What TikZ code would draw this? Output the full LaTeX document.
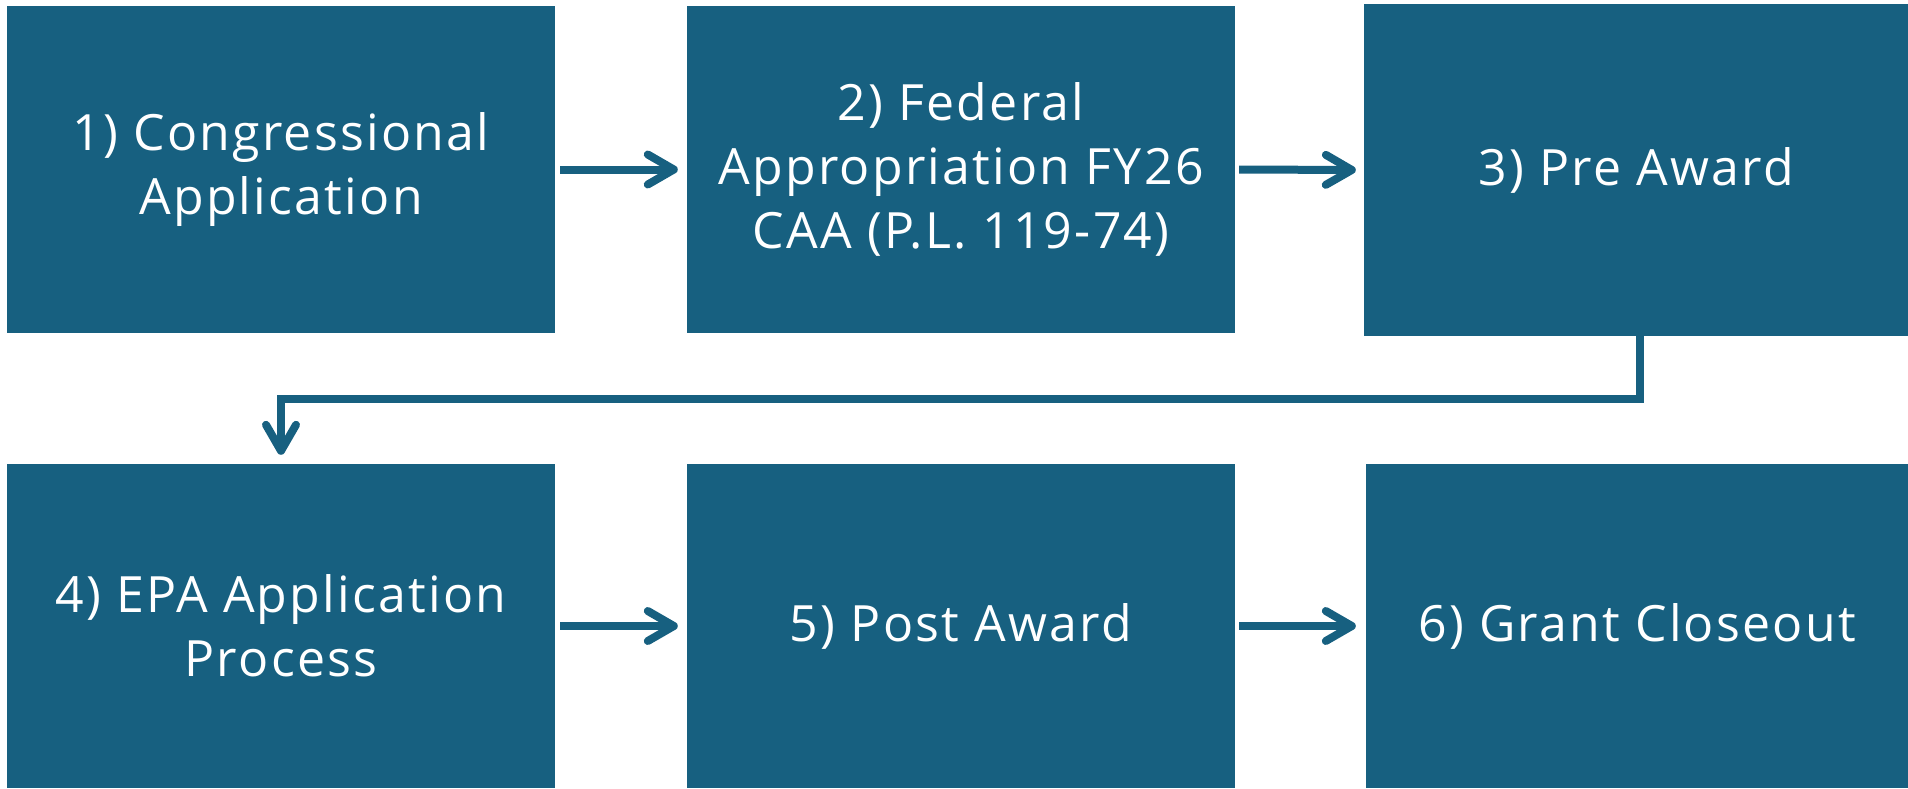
\documentclass[tikz,border=0pt]{standalone}
\usepackage{fontspec}
\setmainfont[LetterSpace=4.5]{Open Sans}
\usetikzlibrary{arrows.meta}
\definecolor{boxblue}{RGB}{23,96,128}
\tikzset{
  stage/.style={fill=boxblue, draw=none, text=white, align=center, inner sep=0pt,
    font=\fontsize{50}{64}\selectfont},
  flow/.style={draw=boxblue, line width=8pt,
    -{Straight Barb[length=26pt,width=30pt,line cap=round,line join=round]}}
}
\begin{document}
\begin{tikzpicture}[x=1pt,y=-1pt]
\useasboundingbox (0,0) rectangle (1908,788);
\node[stage, minimum width=548pt, minimum height=327pt] (b1) at (281,169.5) {1) Congressional\\Application};
\node[stage, minimum width=548pt, minimum height=327pt] (b2) at (961,169.5) {2) Federal\\Appropriation FY26\\CAA (P.L. 119-74)};
\node[stage, minimum width=544pt, minimum height=332pt] (b3) at (1636,170) {3) Pre Award};
\node[stage, minimum width=548pt, minimum height=324pt] (b4) at (281,626) {4) EPA Application\\Process};
\node[stage, minimum width=548pt, minimum height=324pt] (b5) at (961,626) {5) Post Award};
\node[stage, minimum width=542pt, minimum height=324pt] (b6) at (1637,626) {6) Grant Closeout};
\draw[flow, shorten <=5pt, shorten >=9pt] (b1.east) -- (b2.west);
\draw[flow, shorten <=4pt, shorten >=8pt] (b2.east) -- (b3.west);
\draw[flow, shorten <=5pt, shorten >=9pt] (b4.east) -- (b5.west);
\draw[flow, shorten <=4pt, shorten >=10pt] (b5.east) -- (b6.west);
\draw[flow, shorten >=9pt] ([xshift=4pt]b3.south) |- (281,398.5) -- (b4.north);
\end{tikzpicture}
\end{document}
